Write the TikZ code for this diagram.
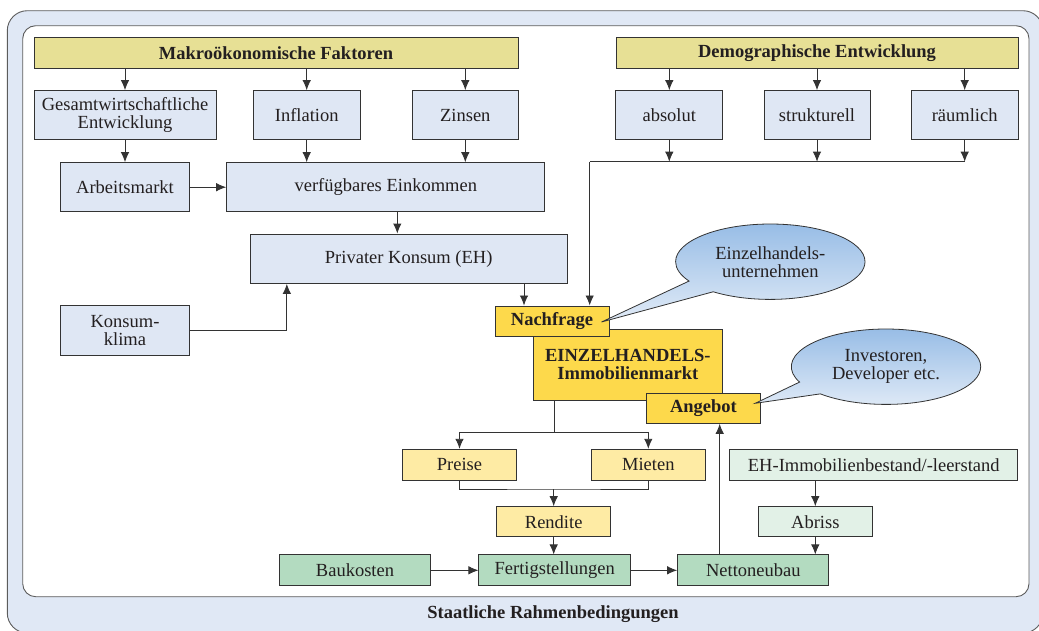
\documentclass[tikz,border=0pt]{standalone}
\usepackage{fontspec}
\setmainfont{Liberation Serif}
\usepackage{xcolor}
\usetikzlibrary{positioning}
\usetikzlibrary{shapes,arrows.meta}
\definecolor{rahmenblau}{HTML}{E0E8F5}
\definecolor{linie}{HTML}{333333}
\definecolor{schrift}{HTML}{231F20}
\definecolor{boxblau}{HTML}{DFE7F4}
\definecolor{oliv}{HTML}{E7E095}
\definecolor{gold}{HTML}{FDD94B}
\definecolor{hellgelb}{HTML}{FEEBA4}
\definecolor{gruen}{HTML}{B3DBC0}
\definecolor{hellgruen}{HTML}{E2F1E7}
\definecolor{blaseoben}{HTML}{98BDE6}
\definecolor{blaseunten}{HTML}{E1EBF7}
\tikzset{
	block/.style={
		rectangle,
		draw=linie,
		line width=1pt,
		text=schrift,
		align=center,
		inner sep=0pt,
		minimum height=30.5pt
	},
	header/.style={fill=oliv},
	factor/.style={fill=boxblau, minimum height=49.3pt},
	market/.style={fill=gold},
	price/.style={fill=hellgelb},
	build/.style={fill=gruen},
	stock/.style={fill=hellgruen},
	bubble/.style={
		ellipse callout,
		draw=linie,
		line width=0.8pt,
		top color=blaseoben,
		bottom color=blaseunten,
		text=schrift,
		align=center,
		inner sep=0pt,
		minimum width=189.4pt,
		minimum height=75.4pt,
		callout pointer arc=22
	},
	link/.style={draw=linie, line width=0.9pt}
}

\begin{document}
\begin{tikzpicture}[x=1pt, y=-1pt, font=\fontsize{18.5}{18}\selectfont, >={Latex[length=10pt,width=8.5pt]}]
	\useasboundingbox (0,0) rectangle (1039,630);
	\draw[draw=linie!80, line width=0.9pt, fill=rahmenblau, rounded corners=20pt] (7.3,10.7) rectangle (1043,633);
	\draw[draw=linie!80, line width=0.9pt, fill=white, rounded corners=13pt] (22.7,25.7) rectangle (1029,596.7);
	\draw node[text=schrift] (Rahmen) at (553,614) {\textbf{Staatliche Rahmenbedingungen}};

	\draw node[block, header, minimum width=484pt] (Makro) at (276,53.2) {\textbf{Makroökonomische Faktoren}};
	\draw node[block, header, minimum width=402pt] (Demografie) at (817,53.2) {\textbf{Demographische Entwicklung}};

	\draw node[block, factor, minimum width=182pt] (Gesamt) at (125,115.3) {Gesamtwirtschaftliche\\Entwicklung};
	\draw node[block, factor, minimum width=106.7pt] (Inflation) at (306.7,115.3) {Inflation};
	\draw node[block, factor, minimum width=106pt] (Zinsen) at (465.3,115.3) {Zinsen};
	\draw node[block, factor, minimum width=106.7pt] (Absolut) at (669.3,115.3) {absolut};
	\draw node[block, factor, minimum width=106pt] (Strukturell) at (817,115.3) {strukturell};
	\draw node[block, factor, minimum width=106.7pt] (Raeumlich) at (964.7,115.3) {räumlich};

	\draw node[block, factor, minimum width=129.4pt, minimum height=49pt] (Arbeitsmarkt) at (125,187.2) {Arbeitsmarkt};
	\draw node[block, factor, minimum width=318.3pt, minimum height=49pt] (Einkommen) at (385.8,187.2) {verfügbares Einkommen};
	\draw node[block, factor, minimum width=317.3pt] (Konsum) at (408.7,258.7) {Privater Konsum (EH)};
	\draw node[block, factor, minimum width=129.4pt, minimum height=49.7pt] (Konsumklima) at (125,330.8) {Konsum-\\klima};

	\draw node[block, market, minimum width=189pt, minimum height=71.3pt] (Markt) at (627.8,364.7) {\textbf{EINZELHANDELS-}\\\textbf{Immobilienmarkt}};
	\draw node[block, market, minimum width=114pt, minimum height=30pt] (Nachfrage) at (552,321) {\textbf{Nachfrage}};
	\draw node[block, market, minimum width=113.6pt, minimum height=30pt] (Angebot) at (703.5,408.3) {\textbf{Angebot}};

	\draw node[block, price, minimum width=114.4pt, minimum height=31pt] (Preise) at (459.5,464.8) {Preise};
	\draw node[block, price, minimum width=114pt, minimum height=31pt] (Mieten) at (648.3,464.8) {Mieten};
	\draw node[block, price, minimum width=114pt, minimum height=30pt] (Rendite) at (553.7,521.7) {Rendite};
	\draw node[block, stock, minimum width=288.3pt, minimum height=31pt] (Bestand) at (873.8,464.8) {EH-Immobilienbestand/-leerstand};
	\draw node[block, stock, minimum width=114pt, minimum height=30pt] (Abriss) at (815.3,521.7) {Abriss};

	\draw node[block, build, minimum width=151.4pt, minimum height=30.7pt] (Baukosten) at (355,570.3) {Baukosten};
	\draw node[block, build, minimum width=151.7pt, minimum height=30.7pt] (Fertig) at (554.8,570.3) {Fertigstellungen};
	\draw node[block, build, minimum width=151.3pt, minimum height=30.7pt] (Netto) at (753.3,570.3) {Nettoneubau};

	\coordinate (NachfrageSpitze) at ([xshift=-8pt,yshift=-1pt]Nachfrage.east);
	\coordinate (AngebotSpitze) at ([xshift=-5.6pt,yshift=5pt]Angebot.east);
	\draw node[bubble, callout absolute pointer=(NachfrageSpitze)] (Unternehmen) at (770.3,261.7) {Einzelhandels-\\unternehmen};
	\draw node[bubble, callout absolute pointer=(AngebotSpitze)] (Investoren) at (886,366.7) {Investoren,\\Developer etc.};

	\coordinate (DemoKnoten) at (589.7,161.7);
	\coordinate (MarktKnoten) at (554.3,432.3);
	\coordinate (PreisKnoten) at (553.7,489);

	\draw [link, ->] (Gesamt |- Makro.south) -- (Gesamt.north);
	\draw [link, ->] (Inflation |- Makro.south) -- (Inflation.north);
	\draw [link, ->] (Zinsen |- Makro.south) -- (Zinsen.north);
	\draw [link, ->] (Absolut |- Demografie.south) -- (Absolut.north);
	\draw [link, ->] (Strukturell |- Demografie.south) -- (Strukturell.north);
	\draw [link, ->] (Raeumlich |- Demografie.south) -- (Raeumlich.north);

	\draw [link, ->] (Gesamt.south) -- (Arbeitsmarkt.north);
	\draw [link, ->] (Inflation.south) -- (Inflation.south |- Einkommen.north);
	\draw [link, ->] (Zinsen.south) -- (Zinsen.south |- Einkommen.north);
	\draw [link, ->] (Arbeitsmarkt.east) -- (Einkommen.west);
	\draw [link, ->] ([xshift=11.5pt]Einkommen.south) -- ([xshift=-11.4pt]Konsum.north);
	\draw [link, ->] (Konsumklima.east) -| ([xshift=37.3pt]Konsum.south west);
	\draw [link, ->] ([xshift=-28pt]Nachfrage.north |- Konsum.south) -- ([xshift=-28pt]Nachfrage.north);

	\draw [link, ->] (Absolut.south) -- (Absolut.south |- DemoKnoten);
	\draw [link, ->] (Strukturell.south) -- (Strukturell.south |- DemoKnoten);
	\draw [link, ->] (Raeumlich.south) -- (Raeumlich.south |- DemoKnoten);
	\draw [link] (Raeumlich.south |- DemoKnoten) -- (DemoKnoten);
	\draw [link, ->] (DemoKnoten) -- (DemoKnoten |- Nachfrage.north);

	\draw [link] (MarktKnoten |- Markt.south) -- (MarktKnoten);
	\draw [link, ->] (MarktKnoten) -| (Preise.north);
	\draw [link, ->] (MarktKnoten) -| (Mieten.north);
	\draw [link] (Preise.south) |- (PreisKnoten) -| (Mieten.south);
	\draw [link, ->] (PreisKnoten) -- (Rendite.north);
	\draw [link, ->] (Rendite.south) -- (Rendite.south |- Fertig.north);

	\draw [link, ->] (Baukosten.east) -- (Fertig.west);
	\draw [link, ->] (Fertig.east) -- (Netto.west);
	\draw [link, ->] ([xshift=-33.6pt]Netto.north) -- ([xshift=-33.6pt]Netto.north |- Angebot.south);
	\draw [link, ->] (Abriss.north |- Bestand.south) -- (Abriss.north);
	\draw [link, ->] (Abriss.south) -- (Abriss.south |- Netto.north);
\end{tikzpicture}
\end{document}
